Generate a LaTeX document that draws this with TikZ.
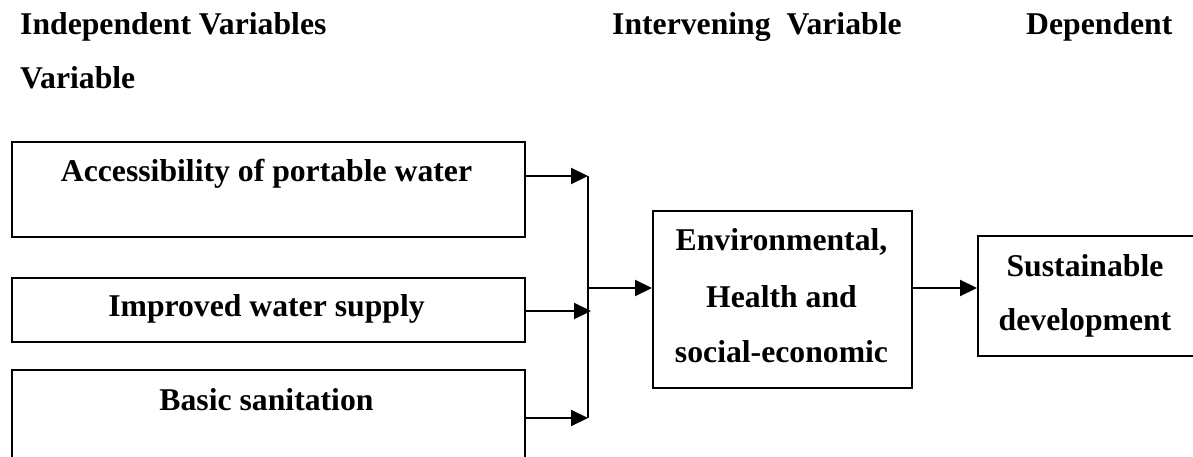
\documentclass[tikz,border=0pt]{standalone}
\usepackage{fontspec}
\setmainfont{Liberation Serif}
\usetikzlibrary{arrows.meta}
\begin{document}
\begin{tikzpicture}[x=1pt,y=-1pt,
  boxs/.style={draw,line width=2.1pt,inner sep=0pt,anchor=north west},
  txt/.style={font=\fontsize{31.7}{38}\selectfont\bfseries,inner sep=0pt,anchor=base},
  hdr/.style={font=\fontsize{31.7}{38}\selectfont\bfseries,inner sep=0pt,anchor=base west},
  conn/.style={line width=2.1pt},
  arr/.style={line width=2.1pt,-{Triangle[length=17pt,width=16pt]}}]
\useasboundingbox (0,0) rectangle (1193,457);
\clip (0,0) rectangle (1193,457);
% headers
\node[hdr] (h1) at (20,35) {Independent Variables};
\node[hdr] (h2) at (612,35) {Intervening\ \ Variable};
\node[hdr] (h3) at (1026,35) {Dependent};
\node[hdr] (h4) at (20,89) {Variable};
% boxes
\node[boxs,minimum width=513pt,minimum height=95pt] (b1) at (11,141) {};
\node[boxs,minimum width=513pt,minimum height=64pt] (b2) at (11,277) {};
\node[boxs,minimum width=513pt,minimum height=110pt] (b3) at (11,369) {};
\node[txt] (t1) at (266.5,182) {Accessibility of portable water};
\node[txt] (t2) at (266.5,316) {Improved water supply};
\node[txt] (t3) at (266.5,410) {Basic sanitation};
\node[boxs,minimum width=259pt,minimum height=177pt] (env) at (652,210) {};
\node[txt] (e1) at (781.5,250) {Environmental,};
\node[txt] (e2) at (781.5,307) {Health and};
\node[txt] (e3) at (781.5,362) {social-economic};
\node[boxs,minimum width=230pt,minimum height=120pt] (sus) at (977,235) {};
\node[txt] (s1) at (1085,276) {Sustainable};
\node[txt] (s2) at (1085,330) {development};
% junctions
\coordinate (j1) at (588,176);
\coordinate (j2) at (591,311);
\coordinate (j3) at (588,418);
\coordinate (m) at (588,288);
\draw[arr] (b1.east |- j1) -- (j1);
\draw[arr] (b2.east |- j2) -- (j2);
\draw[arr] (b3.east |- j3) -- (j3);
\draw[conn] (j1) -- (j3);
\draw[arr] (m) -- (m -| env.west);
\draw[arr] (env.east |- m) -- (m -| sus.west);
\end{tikzpicture}
\end{document}
